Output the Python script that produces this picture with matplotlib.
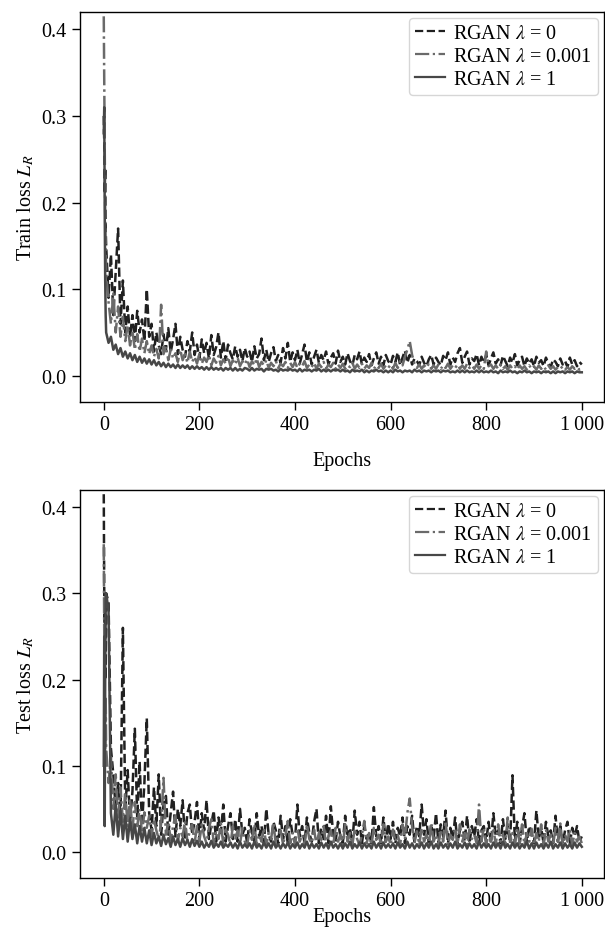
import matplotlib

matplotlib.use("Agg")
import matplotlib.pyplot as plt
from matplotlib.ticker import FuncFormatter

plt.rcParams["font.family"] = ["Liberation Serif", "DejaVu Serif"]
plt.rcParams["mathtext.fontset"] = "stix"
plt.rcParams["font.size"] = 14.5

EPOCHS = [0, 1, 2, 3, 4] + list(range(5, 1001, 5))

LABELS = [r"RGAN $\lambda$ = 0", r"RGAN $\lambda$ = 0.001", r"RGAN $\lambda$ = 1"]

# train loss, one row per 100 epochs (first row: 0,1,2,3,4,5..95)
train_l0 = [
    0.30, 0.27, 0.21, 0.24, 0.17, 0.15, 0.09, 0.14, 0.07, 0.12, 0.17, 0.06, 0.11, 0.05, 0.08, 0.045, 0.07, 0.04, 0.075, 0.05, 0.065, 0.04, 0.10, 0.045,
    0.06, 0.028, 0.05, 0.035, 0.025, 0.048, 0.03, 0.055, 0.027, 0.042, 0.06, 0.025, 0.045, 0.03, 0.022, 0.04, 0.028, 0.05, 0.024, 0.036,
    0.02, 0.042, 0.026, 0.038, 0.02, 0.047, 0.024, 0.033, 0.05, 0.021, 0.04, 0.018, 0.036, 0.026, 0.019, 0.034, 0.022, 0.03, 0.017, 0.032,
    0.022, 0.028, 0.016, 0.034, 0.02, 0.025, 0.043, 0.018, 0.03, 0.016, 0.026, 0.033, 0.017, 0.024, 0.015, 0.032, 0.02, 0.038, 0.016, 0.027,
    0.018, 0.03, 0.014, 0.025, 0.036, 0.016, 0.027, 0.013, 0.022, 0.03, 0.015, 0.024, 0.018, 0.028, 0.013, 0.021, 0.026, 0.014, 0.029, 0.016,
    0.022, 0.013, 0.026, 0.017, 0.012, 0.024, 0.019, 0.028, 0.013, 0.021, 0.016, 0.025, 0.012, 0.02, 0.027, 0.014, 0.022, 0.012, 0.024, 0.017,
    0.013, 0.023, 0.016, 0.027, 0.012, 0.021, 0.029, 0.015, 0.024, 0.013, 0.02, 0.017, 0.012, 0.022, 0.015, 0.011, 0.019, 0.024, 0.013, 0.021,
    0.016, 0.012, 0.023, 0.018, 0.027, 0.013, 0.021, 0.016, 0.026, 0.032, 0.015, 0.022, 0.028, 0.013, 0.02, 0.017, 0.025, 0.012, 0.022, 0.015,
    0.024, 0.012, 0.02, 0.027, 0.014, 0.019, 0.012, 0.023, 0.017, 0.011, 0.021, 0.015, 0.025, 0.012, 0.018, 0.022, 0.011, 0.02, 0.014, 0.019,
    0.011, 0.022, 0.015, 0.018, 0.011, 0.021, 0.014, 0.01, 0.019, 0.016, 0.011, 0.02, 0.013, 0.017, 0.01, 0.021, 0.013, 0.018, 0.011, 0.016,
    0.013,
]
train_l001 = [
    0.415, 0.34, 0.25, 0.19, 0.15, 0.12, 0.085, 0.06, 0.095, 0.05, 0.08, 0.045, 0.068, 0.04, 0.058, 0.035, 0.052, 0.03, 0.048, 0.028, 0.043, 0.026, 0.04, 0.025,
    0.035, 0.022, 0.031, 0.02, 0.082, 0.025, 0.034, 0.018, 0.03, 0.02, 0.026, 0.016, 0.03, 0.018, 0.025, 0.015, 0.028, 0.016, 0.022, 0.014,
    0.025, 0.014, 0.021, 0.016, 0.024, 0.012, 0.02, 0.015, 0.023, 0.012, 0.019, 0.014, 0.022, 0.011, 0.018, 0.013, 0.021, 0.011, 0.017, 0.013,
    0.019, 0.01, 0.017, 0.012, 0.02, 0.01, 0.016, 0.012, 0.018, 0.009, 0.015, 0.011, 0.017, 0.009, 0.014, 0.011, 0.016, 0.009, 0.015, 0.01,
    0.016, 0.009, 0.014, 0.011, 0.017, 0.009, 0.013, 0.01, 0.015, 0.008, 0.014, 0.01, 0.016, 0.008, 0.013, 0.01, 0.015, 0.008, 0.013, 0.009,
    0.014, 0.008, 0.012, 0.01, 0.015, 0.008, 0.013, 0.009, 0.014, 0.008, 0.012, 0.009, 0.015, 0.008, 0.012, 0.009, 0.014, 0.008, 0.012, 0.009,
    0.013, 0.008, 0.015, 0.009, 0.017, 0.012, 0.022, 0.03, 0.04, 0.024, 0.014, 0.009, 0.013, 0.008, 0.012, 0.009, 0.014, 0.008, 0.012, 0.008,
    0.013, 0.008, 0.012, 0.009, 0.014, 0.008, 0.012, 0.009, 0.013, 0.008, 0.012, 0.008, 0.014, 0.009, 0.012, 0.008, 0.013, 0.008, 0.012, 0.008,
    0.028, 0.011, 0.013, 0.008, 0.012, 0.008, 0.013, 0.008, 0.011, 0.007, 0.012, 0.008, 0.011, 0.007, 0.012, 0.008, 0.011, 0.007, 0.012, 0.008,
    0.011, 0.007, 0.012, 0.008, 0.011, 0.007, 0.012, 0.008, 0.011, 0.007, 0.01, 0.008, 0.011, 0.007, 0.01, 0.007, 0.011, 0.008, 0.01, 0.007,
    0.009,
]
train_l1 = [
    0.28, 0.31, 0.19, 0.11, 0.07, 0.05, 0.038, 0.045, 0.03, 0.036, 0.025, 0.032, 0.022, 0.028, 0.02, 0.026, 0.018, 0.024, 0.016, 0.022, 0.015, 0.02, 0.014, 0.019,
    0.013, 0.018, 0.012, 0.016, 0.011, 0.015, 0.01, 0.014, 0.01, 0.013, 0.009, 0.013, 0.009, 0.012, 0.009, 0.012, 0.008, 0.011, 0.008, 0.011,
    0.008, 0.01, 0.007, 0.01, 0.007, 0.01, 0.007, 0.009, 0.007, 0.009, 0.006, 0.009, 0.007, 0.009, 0.006, 0.009, 0.006, 0.008, 0.006, 0.009,
    0.008, 0.006, 0.009, 0.006, 0.008, 0.007, 0.008, 0.005, 0.008, 0.007, 0.008, 0.006, 0.007, 0.005, 0.008, 0.006, 0.007, 0.006, 0.008, 0.006,
    0.007, 0.005, 0.008, 0.005, 0.007, 0.006, 0.007, 0.005, 0.007, 0.006, 0.008, 0.005, 0.007, 0.005, 0.007, 0.005, 0.007, 0.006, 0.007, 0.005,
    0.007, 0.005, 0.006, 0.004, 0.007, 0.005, 0.006, 0.005, 0.007, 0.004, 0.006, 0.004, 0.006, 0.005, 0.007, 0.005, 0.006, 0.004, 0.006, 0.004,
    0.006, 0.004, 0.007, 0.005, 0.006, 0.004, 0.006, 0.005, 0.006, 0.004, 0.007, 0.005, 0.006, 0.004, 0.006, 0.005, 0.006, 0.004, 0.006, 0.005,
    0.006, 0.004, 0.006, 0.005, 0.006, 0.004, 0.005, 0.004, 0.006, 0.004, 0.006, 0.004, 0.006, 0.004, 0.005, 0.004, 0.006, 0.004, 0.006, 0.004,
    0.005, 0.004, 0.006, 0.004, 0.005, 0.003, 0.006, 0.004, 0.005, 0.004, 0.006, 0.004, 0.005, 0.003, 0.005, 0.004, 0.006, 0.004, 0.005, 0.003,
    0.005, 0.004, 0.005, 0.003, 0.005, 0.004, 0.005, 0.003, 0.005, 0.003, 0.005, 0.004, 0.005, 0.003, 0.005, 0.004, 0.005, 0.003, 0.005, 0.004,
    0.004,
]

# test loss, same layout
test_l0 = [
    0.415, 0.3, 0.22, 0.28, 0.2, 0.3, 0.29, 0.12, 0.09, 0.05, 0.08, 0.04, 0.26, 0.05, 0.095, 0.035, 0.07, 0.143, 0.04, 0.105, 0.03, 0.08, 0.155, 0.045,
    0.025, 0.075, 0.03, 0.09, 0.02, 0.055, 0.065, 0.02, 0.045, 0.07, 0.018, 0.05, 0.03, 0.06, 0.015, 0.045, 0.055, 0.02, 0.035, 0.058,
    0.015, 0.045, 0.025, 0.06, 0.015, 0.032, 0.048, 0.012, 0.04, 0.022, 0.055, 0.012, 0.03, 0.045, 0.015, 0.038, 0.012, 0.05, 0.02, 0.028,
    0.01, 0.038, 0.022, 0.012, 0.045, 0.018, 0.03, 0.01, 0.05, 0.02, 0.012, 0.035, 0.025, 0.01, 0.042, 0.015, 0.03, 0.01, 0.038, 0.02,
    0.012, 0.055, 0.018, 0.03, 0.01, 0.04, 0.022, 0.012, 0.035, 0.05, 0.01, 0.028, 0.015, 0.042, 0.01, 0.053, 0.02, 0.012, 0.035, 0.018,
    0.01, 0.042, 0.015, 0.028, 0.01, 0.048, 0.02, 0.035, 0.01, 0.03, 0.015, 0.022, 0.01, 0.052, 0.018, 0.03, 0.01, 0.04, 0.012, 0.033,
    0.015, 0.035, 0.01, 0.028, 0.018, 0.04, 0.01, 0.03, 0.02, 0.042, 0.012, 0.03, 0.018, 0.055, 0.02, 0.038, 0.01, 0.032, 0.015, 0.045,
    0.01, 0.032, 0.018, 0.048, 0.01, 0.028, 0.015, 0.04, 0.01, 0.025, 0.035, 0.012, 0.042, 0.01, 0.03, 0.018, 0.038, 0.01, 0.025, 0.03,
    0.012, 0.035, 0.01, 0.045, 0.018, 0.025, 0.01, 0.038, 0.015, 0.03, 0.01, 0.089, 0.012, 0.035, 0.01, 0.028, 0.045, 0.012, 0.03, 0.02,
    0.01, 0.048, 0.015, 0.028, 0.01, 0.035, 0.018, 0.025, 0.01, 0.042, 0.012, 0.03, 0.01, 0.025, 0.035, 0.01, 0.028, 0.018, 0.03, 0.012,
    0.018,
]
test_l001 = [
    0.357, 0.25, 0.15, 0.1, 0.18, 0.12, 0.08, 0.11, 0.05, 0.09, 0.04, 0.075, 0.035, 0.068, 0.03, 0.062, 0.025, 0.058, 0.03, 0.05, 0.022, 0.046, 0.028, 0.042,
    0.018, 0.038, 0.025, 0.015, 0.033, 0.086, 0.02, 0.035, 0.014, 0.03, 0.042, 0.012, 0.028, 0.018, 0.036, 0.012, 0.025, 0.032, 0.01, 0.03,
    0.012, 0.032, 0.018, 0.01, 0.028, 0.038, 0.01, 0.024, 0.015, 0.033, 0.009, 0.026, 0.02, 0.008, 0.03, 0.014, 0.025, 0.009, 0.028, 0.012,
    0.008, 0.025, 0.014, 0.032, 0.008, 0.02, 0.012, 0.028, 0.008, 0.022, 0.015, 0.034, 0.008, 0.018, 0.025, 0.009, 0.02, 0.036, 0.01, 0.022,
    0.008, 0.028, 0.012, 0.02, 0.008, 0.032, 0.015, 0.01, 0.026, 0.008, 0.022, 0.014, 0.03, 0.008, 0.018, 0.025, 0.008, 0.028, 0.012, 0.02,
    0.008, 0.032, 0.012, 0.022, 0.008, 0.027, 0.015, 0.008, 0.02, 0.036, 0.01, 0.022, 0.008, 0.028, 0.014, 0.02, 0.008, 0.032, 0.012, 0.018,
    0.008, 0.026, 0.012, 0.02, 0.008, 0.032, 0.015, 0.045, 0.062, 0.03, 0.01, 0.024, 0.008, 0.028, 0.012, 0.02, 0.008, 0.034, 0.012, 0.02,
    0.008, 0.026, 0.012, 0.036, 0.008, 0.02, 0.014, 0.028, 0.008, 0.032, 0.012, 0.022, 0.008, 0.026, 0.015, 0.02, 0.01, 0.055, 0.012, 0.028,
    0.008, 0.022, 0.012, 0.028, 0.008, 0.032, 0.012, 0.02, 0.008, 0.04, 0.012, 0.022, 0.008, 0.028, 0.01, 0.032, 0.008, 0.022, 0.012, 0.027,
    0.008, 0.022, 0.012, 0.032, 0.008, 0.026, 0.012, 0.02, 0.008, 0.028, 0.012, 0.033, 0.008, 0.02, 0.012, 0.026, 0.008, 0.022, 0.012, 0.018,
    0.01,
]
test_l1 = [
    0.1, 0.25, 0.03, 0.2, 0.3, 0.3, 0.28, 0.045, 0.02, 0.055, 0.018, 0.048, 0.015, 0.042, 0.012, 0.038, 0.015, 0.032, 0.01, 0.03, 0.012, 0.028, 0.01, 0.025,
    0.008, 0.022, 0.01, 0.018, 0.007, 0.02, 0.009, 0.016, 0.006, 0.018, 0.008, 0.015, 0.006, 0.016, 0.008, 0.014, 0.006, 0.015, 0.007, 0.013,
    0.006, 0.012, 0.005, 0.01, 0.006, 0.013, 0.005, 0.01, 0.006, 0.012, 0.005, 0.009, 0.006, 0.011, 0.005, 0.01, 0.004, 0.012, 0.005, 0.009,
    0.005, 0.01, 0.004, 0.012, 0.005, 0.009, 0.004, 0.011, 0.005, 0.01, 0.004, 0.012, 0.005, 0.009, 0.004, 0.01, 0.005, 0.011, 0.004, 0.009,
    0.005, 0.011, 0.004, 0.009, 0.005, 0.012, 0.004, 0.01, 0.005, 0.009, 0.004, 0.011, 0.005, 0.01, 0.004, 0.012, 0.005, 0.009, 0.004, 0.01,
    0.004, 0.01, 0.005, 0.012, 0.004, 0.009, 0.005, 0.011, 0.004, 0.01, 0.005, 0.009, 0.004, 0.012, 0.005, 0.01, 0.004, 0.011, 0.005, 0.009,
    0.005, 0.01, 0.004, 0.011, 0.005, 0.009, 0.004, 0.012, 0.005, 0.01, 0.004, 0.009, 0.005, 0.011, 0.004, 0.01, 0.005, 0.012, 0.004, 0.009,
    0.004, 0.011, 0.005, 0.009, 0.004, 0.01, 0.005, 0.012, 0.004, 0.009, 0.005, 0.011, 0.004, 0.01, 0.005, 0.009, 0.004, 0.012, 0.005, 0.01,
    0.005, 0.009, 0.004, 0.011, 0.005, 0.01, 0.004, 0.012, 0.005, 0.009, 0.004, 0.011, 0.005, 0.01, 0.004, 0.009, 0.005, 0.012, 0.004, 0.01,
    0.004, 0.011, 0.005, 0.009, 0.004, 0.01, 0.005, 0.012, 0.004, 0.009, 0.005, 0.011, 0.004, 0.01, 0.005, 0.009, 0.004, 0.011, 0.005, 0.01,
    0.006,
]

STYLES = [
    dict(color="#202020", linestyle="--"),
    dict(color="#6a6a6a", linestyle="-."),
    dict(color="#474747", linestyle="-"),
]


def epoch_fmt(x, pos):
    v = int(round(x))
    if v >= 1000:
        return f"{v // 1000}\u2009{v % 1000:03d}"
    return str(v)


def draw(ax, series, ylabel, labelpad):
    for values, label, style in zip(series, LABELS, STYLES):
        ax.plot(EPOCHS, values, label=label, linewidth=1.8, **style)
    ax.set_xlim(-50, 1046)
    ax.set_ylim(-0.03, 0.42)
    ax.set_xticks([0, 200, 400, 600, 800, 1000])
    ax.set_yticks([0.0, 0.1, 0.2, 0.3, 0.4])
    ax.xaxis.set_major_formatter(FuncFormatter(epoch_fmt))
    ax.set_xlabel("Epochs", labelpad=labelpad)
    ax.set_ylabel(ylabel)
    ax.tick_params(direction="out", length=6, width=1.0)
    for spine in ax.spines.values():
        spine.set_linewidth(1.0)
    leg = ax.legend(loc="upper right", handlelength=1.5, handletextpad=0.4,
                    labelspacing=0.2, borderpad=0.3, borderaxespad=0.3)
    for line in leg.get_lines():
        line.set_linewidth(1.6)


fig = plt.figure(figsize=(6.05, 9.28), dpi=100)
ax_top = fig.add_axes([0.132, 0.566, 0.866, 0.420])
ax_bot = fig.add_axes([0.132, 0.053, 0.866, 0.418])

draw(ax_top, [train_l0, train_l001, train_l1], r"Train loss $L_R$", 12)
draw(ax_bot, [test_l0, test_l001, test_l1], r"Test loss $L_R$", -2)

fig.savefig("out.png", dpi=100)
